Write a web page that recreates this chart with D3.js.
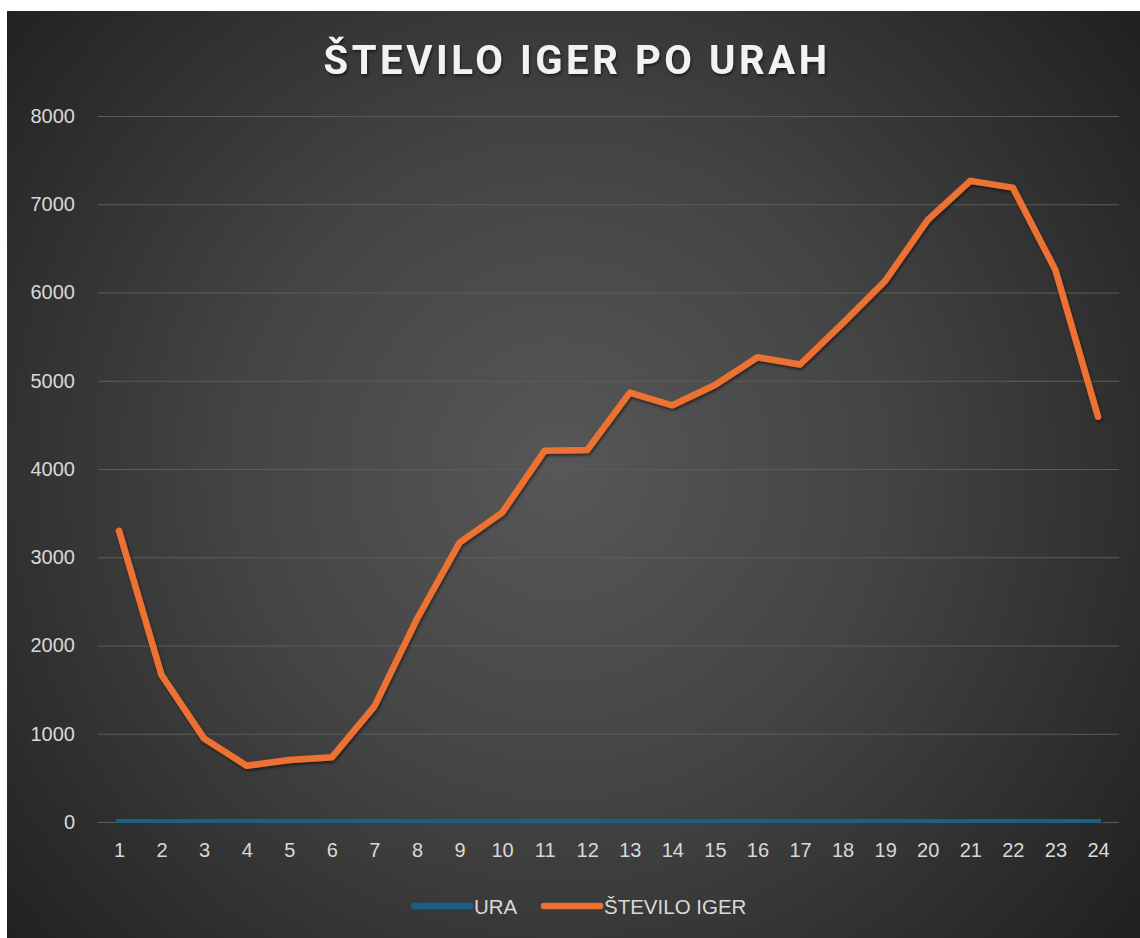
<!DOCTYPE html>
<html>
<head>
<meta charset="utf-8">
<script src="https://cdn.jsdelivr.net/npm/d3@7"></script>
<style>
  html, body { margin: 0; padding: 0; background: #fff; }
  svg { display: block; }
</style>
</head>
<body>
<div id="chart"></div>
<script>
const hours = d3.range(1, 25);
const uraValues = d3.range(1, 25);
const gameCounts = [3300, 1665, 945, 638, 703, 733, 1310, 2300, 3165, 3505, 4208, 4215,
  4865, 4722, 4952, 5266, 5184, 5650, 6132, 6822, 7265, 7188, 6255, 4592];
const yTicks = [0, 1000, 2000, 3000, 4000, 5000, 6000, 7000, 8000];
const seriesNames = ['URA', 'ŠTEVILO IGER'];
const seriesColors = ['#1c5f86', '#ed7130'];

var drawChart = function () {
  const width = 1140;
  const height = 938;
  const margin = { left: 98, right: 21, top: 116, bottom: 116 };

  const svg = d3.select('#chart')
    .append('svg')
    .attr('width', width)
    .attr('height', height);

  const defs = svg.append('defs');

  // background radial gradient
  const grad = defs.append('radialGradient')
    .attr('id', 'bg')
    .attr('gradientUnits', 'userSpaceOnUse')
    .attr('cx', 560).attr('cy', 470).attr('r', 720);
  grad.append('stop').attr('offset', '0%').attr('stop-color', '#575757');
  grad.append('stop').attr('offset', '45%').attr('stop-color', '#444444');
  grad.append('stop').attr('offset', '100%').attr('stop-color', '#222222');

  const shadow = defs.append('filter')
    .attr('id', 'shadow')
    .attr('x', '-10%').attr('y', '-10%')
    .attr('width', '120%').attr('height', '120%');
  shadow.append('feDropShadow')
    .attr('dx', 1).attr('dy', 2)
    .attr('stdDeviation', 1.8)
    .attr('flood-color', '#000')
    .attr('flood-opacity', 0.55);

  svg.append('rect')
    .attr('x', 7).attr('y', 11)
    .attr('width', width - 7).attr('height', height - 11)
    .attr('fill', 'url(#bg)');

  // title
  svg.append('text')
    .attr('x', 577)
    .attr('y', 74)
    .attr('text-anchor', 'middle')
    .attr('font-family', 'Roboto, sans-serif')
    .attr('font-weight', 700)
    .attr('font-size', 40)
    .attr('letter-spacing', 3.6)
    .attr('fill', '#f2f2f2')
    .attr('filter', 'url(#shadow)')
    .text('ŠTEVILO IGER PO URAH');

  const x = d3.scalePoint()
    .domain(hours)
    .range([119, 1098]);

  const y = d3.scaleLinear()
    .domain([0, 8000])
    .range([822, 116]);

  // gridlines
  svg.append('g')
    .selectAll('line')
    .data(yTicks)
    .enter().append('line')
    .attr('x1', margin.left)
    .attr('x2', width - margin.right)
    .attr('y1', d => y(d) + 0.5)
    .attr('y2', d => y(d) + 0.5)
    .attr('stroke', '#5c5c5c')
    .attr('stroke-width', 1.2);

  // y axis labels
  const yAxis = svg.append('g')
    .attr('transform', 'translate(75,0)')
    .call(d3.axisLeft(y).tickValues(yTicks).tickFormat(d3.format('d')).tickSize(0).tickPadding(0));
  yAxis.select('.domain').remove();
  yAxis.selectAll('text')
    .attr('font-family', '"Liberation Sans", Arial, sans-serif')
    .attr('font-size', 20)
    .attr('fill', '#d9d9d9');

  // x axis labels
  const xAxis = svg.append('g')
    .attr('transform', 'translate(0,843)')
    .call(d3.axisBottom(x).tickSize(0).tickPadding(0));
  xAxis.select('.domain').remove();
  xAxis.selectAll('text')
    .attr('font-family', '"Liberation Sans", Arial, sans-serif')
    .attr('font-size', 20)
    .attr('fill', '#d9d9d9');

  const line = d3.line()
    .x((d, i) => x(hours[i]))
    .y(d => y(d));

  const series = [uraValues, gameCounts];

  svg.append('g')
    .selectAll('path')
    .data(series)
    .enter().append('path')
    .attr('d', d => line(d))
    .attr('fill', 'none')
    .attr('stroke', (d, i) => seriesColors[i])
    .attr('stroke-width', 6.5)
    .attr('stroke-linecap', 'round')
    .attr('stroke-linejoin', 'round')
    .attr('filter', 'url(#shadow)');

  // legend
  const legendItems = [
    { name: seriesNames[0], color: seriesColors[0], x: 414 },
    { name: seriesNames[1], color: seriesColors[1], x: 544 }
  ];

  const legend = svg.append('g')
    .selectAll('g')
    .data(legendItems)
    .enter().append('g')
    .attr('transform', d => 'translate(' + d.x + ',906)');

  legend.append('line')
    .attr('x1', 0).attr('x2', 56)
    .attr('y1', 0).attr('y2', 0)
    .attr('stroke', d => d.color)
    .attr('stroke-width', 6.5)
    .attr('stroke-linecap', 'round');

  legend.append('text')
    .attr('x', 60)
    .attr('y', 7.5)
    .attr('font-family', '"Liberation Sans", Arial, sans-serif')
    .attr('font-size', 20.5)
    .attr('fill', '#d9d9d9')
    .text(d => d.name);
};

drawChart();
</script>
</body>
</html>
